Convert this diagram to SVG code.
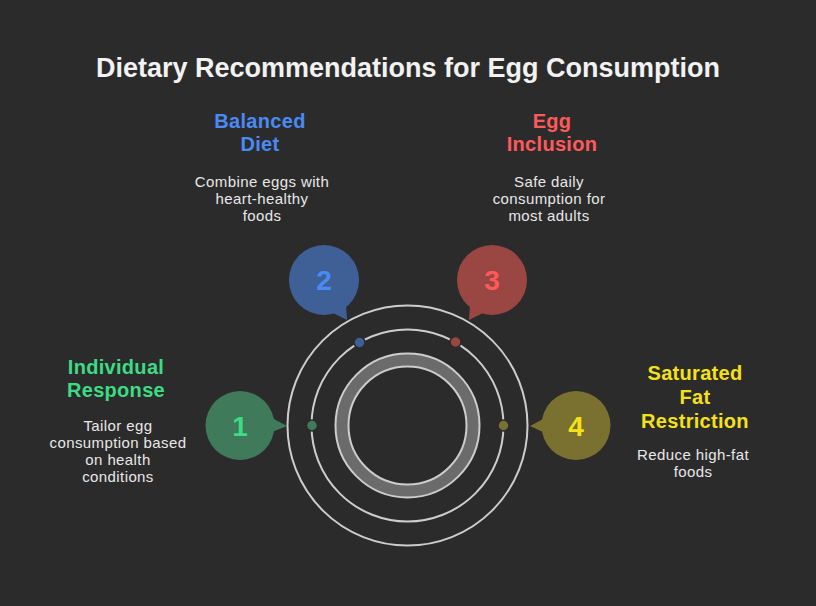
<svg xmlns="http://www.w3.org/2000/svg" width="816" height="606" viewBox="0 0 816 606">
<style>
text{font-family:"Liberation Sans",Arial,sans-serif;text-anchor:middle}
.title{font-size:27px;font-weight:bold;fill:#f2f2f2}
.head{font-size:20px;font-weight:bold;letter-spacing:0.3px}
.body{font-size:15px;fill:#e8e8e8;letter-spacing:0.4px}
.num{font-size:28px;font-weight:bold}
.ring{fill:none;stroke:#cdcdcd;stroke-width:2}
</style>
<rect width="816" height="606" fill="#2b2b2b"/>
<text class="title" x="408" y="77">Dietary Recommendations for Egg Consumption</text>

<g id="rings">
<circle cx="407.5" cy="425.5" r="120" class="ring"/>
<circle cx="407.5" cy="425.5" r="96" class="ring"/>
<circle cx="407.5" cy="425.5" r="65.5" fill="none" stroke="#6b6b6b" stroke-width="13"/>
<circle cx="407.5" cy="425.5" r="72" class="ring"/>
<circle cx="407.5" cy="425.5" r="59" class="ring"/>
</g>

<g id="connectors">
<circle cx="312" cy="425.5" r="5.5" fill="#3f7a5a" stroke="#2b2b2b" stroke-width="1.5"/>
<circle cx="359.5" cy="342.5" r="5.5" fill="#3f6096" stroke="#2b2b2b" stroke-width="1.5"/>
<circle cx="455.5" cy="342" r="5.5" fill="#9a4642" stroke="#2b2b2b" stroke-width="1.5"/>
<circle cx="503.5" cy="425.5" r="5.5" fill="#7a7030" stroke="#2b2b2b" stroke-width="1.5"/>
</g>

<g id="node1">
<circle cx="240" cy="425.5" r="34.5" fill="#3f7a5a"/>
<polygon points="272,418 287,426 272,432" fill="#3f7a5a"/>
<text class="num" x="240" y="436" fill="#3ddc84">1</text>
<text class="head" x="116" y="374" fill="#3ddc84">Individual</text>
<text class="head" x="116" y="397" fill="#3ddc84">Response</text>
<text class="body" x="118" y="431">Tailor egg</text>
<text class="body" x="118" y="448">consumption based</text>
<text class="body" x="118" y="465">on health</text>
<text class="body" x="118" y="482">conditions</text>
</g>

<g id="node2">
<circle cx="324" cy="280" r="35" fill="#3f6096"/>
<polygon points="346,304 333,313 347,320" fill="#3f6096"/>
<text class="num" x="324" y="290" fill="#4a8af4">2</text>
<text class="head" x="260" y="128" fill="#4a8af4">Balanced</text>
<text class="head" x="260" y="151" fill="#4a8af4">Diet</text>
<text class="body" x="262" y="187">Combine eggs with</text>
<text class="body" x="262" y="204">heart-healthy</text>
<text class="body" x="262" y="221">foods</text>
</g>

<g id="node3">
<circle cx="492" cy="280" r="35" fill="#9a4642"/>
<polygon points="470,304 483,313 469,320" fill="#9a4642"/>
<text class="num" x="492" y="290" fill="#ff5a5a">3</text>
<text class="head" x="552" y="128" fill="#ff5a5a">Egg</text>
<text class="head" x="552" y="151" fill="#ff5a5a">Inclusion</text>
<text class="body" x="549" y="187">Safe daily</text>
<text class="body" x="549" y="204">consumption for</text>
<text class="body" x="549" y="221">most adults</text>
</g>

<g id="node4">
<circle cx="576" cy="425.5" r="34.5" fill="#7a7030"/>
<polygon points="545,418 530,426 545,433" fill="#7a7030"/>
<text class="num" x="576" y="436" fill="#f5e11a">4</text>
<text class="head" x="695" y="380" fill="#f5e11a">Saturated</text>
<text class="head" x="695" y="404" fill="#f5e11a">Fat</text>
<text class="head" x="695" y="428" fill="#f5e11a">Restriction</text>
<text class="body" x="693" y="460">Reduce high-fat</text>
<text class="body" x="693" y="477">foods</text>
</g>
</svg>
